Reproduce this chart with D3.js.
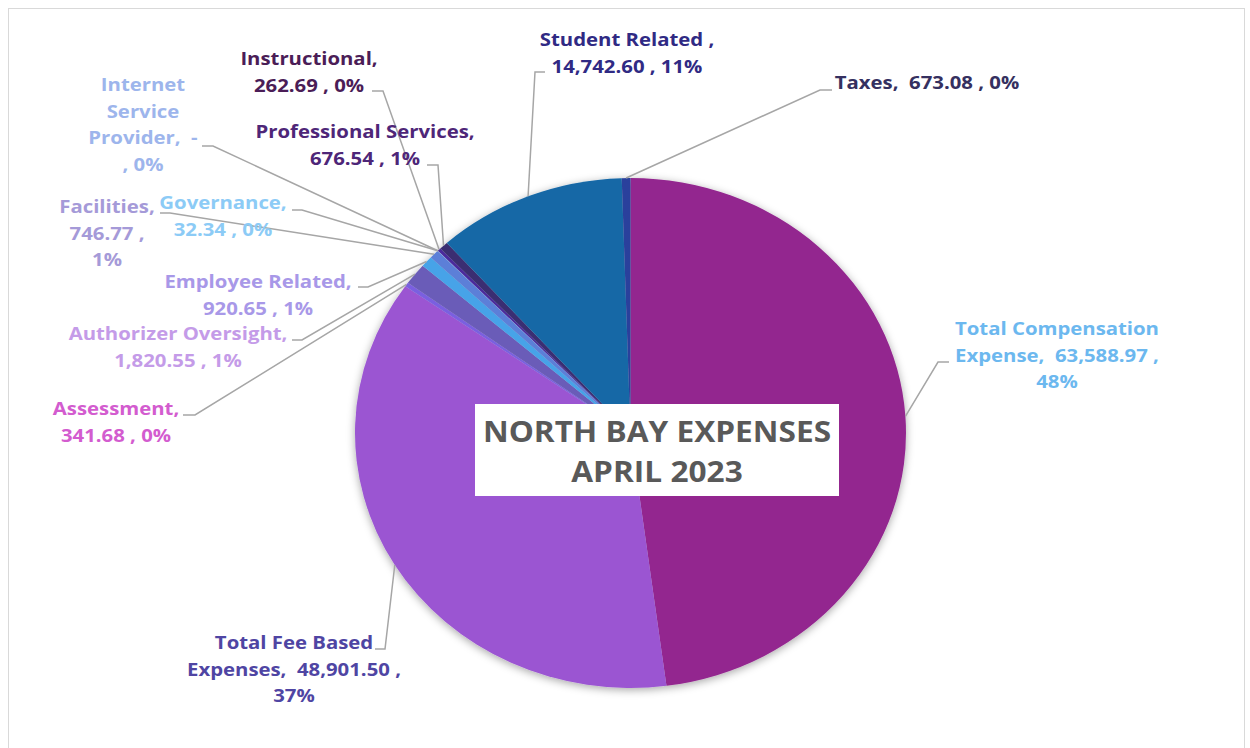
<!DOCTYPE html>
<html>
<head>
<meta charset="utf-8">
<script src="https://cdn.jsdelivr.net/npm/d3@7"></script>
<style>
  body { margin: 0; background: #fff; }
  text { font-family: "Open Sans", "Noto Sans", sans-serif; font-weight: bold; white-space: pre; }
</style>
</head>
<body>
<svg id="chart" width="1250" height="748"></svg>
<script>
// data, in the order the slices run clockwise from 12 o'clock
const categories = ["Total Compensation Expense", "Total Fee Based Expenses", "Assessment",
  "Authorizer Oversight", "Employee Related", "Facilities", "Governance",
  "Internet Service Provider", "Instructional", "Professional Services",
  "Student Related ", "Taxes"];
const amounts = [63588.97, 48901.50, 341.68, 1820.55, 920.65, 746.77, 32.34, 0,
  262.69, 676.54, 14742.60, 673.08];
// percentages as Excel printed them
const percentLabels = ["48%", "37%", "0%", "1%", "1%", "1%", "0%", "0%", "0%", "1%", "11%", "0%"];
const sliceColors = ["#93278f", "#9b55d2", "#7a5fe0", "#6a5bb8", "#46a3e8", "#5b7fd8",
  "#8fc8f2", "#9db5ec", "#4b2b9c", "#3b2f72", "#1467a6", "#2a409c"];
const labelColors = ["#6cb8ef", "#4f45a3", "#d35ccf", "#c49be8", "#a898e8", "#a59ad8",
  "#8ccbf6", "#9db5ec", "#4b1d57", "#4e2678", "#302a84", "#353060"];
const titleLines = ["NORTH BAY EXPENSES", "APRIL 2023"];

// where Excel put each label: text centre, first line y, words per line, leader stub
const labelLayout = [
  {x: 1057, y: 329, wrap: [2, 3, 1], stub: [949, 362, 938, 362]},
  {x: 294, y: 643, wrap: [3, 3, 1], stub: [375, 649, 385, 649]},
  {x: 116, y: 409, wrap: [1, 3], stub: [183, 415, 195, 415]},
  {x: 178, y: 334, wrap: [2, 3], stub: [292, 340, 302, 340]},
  {x: 258, y: 282, wrap: [2, 3], stub: [358, 287, 368, 287]},
  {x: 107, y: 207, wrap: [1, 2, 1], stub: [160, 213, 170, 213]},
  {x: 223, y: 203, wrap: [1, 3], stub: [292, 210, 302, 210]},
  {x: 143, y: 85, wrap: [1, 1, 2, 2], stub: [202, 146, 213, 146]},
  {x: 309, y: 59, wrap: [1, 3], stub: [372, 91, 383, 91]},
  {x: 365, y: 132, wrap: [2, 3], stub: [427, 165, 438, 165]},
  {x: 627, y: 40, wrap: [3, 3], stub: [545, 72, 535, 72]},
  {x: 927, y: 83, wrap: [4], stub: [832, 90, 820, 90]}
];

const svg = d3.select("#chart");
const cx = 630.5, cy = 433, rx = 275.5, ry = 255;
const lineH = 26.5;
const stretch = 1.13;   // the picture is a little wider than it should be, text included

// chart frame
svg.append("rect")
   .attr("x", 8.5).attr("y", 8.5)
   .attr("width", 1236).attr("height", 800)
   .attr("fill", "none").attr("stroke", "#d9d9d9");

const defs = svg.append("defs");
defs.append("filter").attr("id", "shadow")
    .attr("x", "-10%").attr("y", "-10%").attr("width", "120%").attr("height", "120%")
  .append("feDropShadow")
    .attr("dx", 0).attr("dy", 2).attr("stdDeviation", 4)
    .attr("flood-color", "#000").attr("flood-opacity", 0.35);

const pie = d3.pie().sort(null).value(i => amounts[i]);
const arcs = pie(d3.range(categories.length));
const arc = d3.arc().innerRadius(0).outerRadius(ry);
const edge = d3.arc().innerRadius(ry).outerRadius(ry);

const pieG = svg.append("g")
   .attr("transform", "translate(" + cx + "," + cy + ") scale(" + (rx / ry) + ",1)");
pieG.append("g").attr("filter", "url(#shadow)")
   .selectAll("path")
   .data(arcs)
   .enter()
   .append("path")
   .attr("d", arc)
   .attr("fill", d => sliceColors[d.data]);

// accounting style: padded with spaces, a dash for zero
const money = v => " " + (v === 0 ? "-" : d3.format(",.2f")(v)) + " ";

// leader lines
svg.append("g").selectAll("path")
   .data(arcs)
   .enter()
   .append("path")
   .attr("d", d => {
       const s = labelLayout[d.data].stub;
       const p = edge.centroid(d);
       return "M" + s[0] + "," + s[1] + "L" + s[2] + "," + s[3] +
              "L" + (cx + p[0] * rx / ry) + "," + (cy + p[1]);
   })
   .attr("fill", "none")
   .attr("stroke", "#a6a6a6")
   .attr("stroke-width", 1.5);

// data labels
arcs.forEach(d => {
    const i = d.data;
    const lay = labelLayout[i];
    const words = (categories[i] + ", " + money(amounts[i]) + ", " + percentLabels[i])
        .match(/\S+\s*/g);
    let k = 0;
    const lines = lay.wrap.map(n => {
        const l = words.slice(k, k + n).join("").replace(/\s+$/, "");
        k += n;
        return l;
    });
    svg.append("text")
       .attr("transform", "translate(" + lay.x + ",0) scale(" + stretch + ",1)")
       .attr("text-anchor", "middle")
       .attr("fill", labelColors[i])
       .style("font-size", "18px")
       .selectAll("tspan")
       .data(lines)
       .enter()
       .append("tspan")
       .attr("x", 0)
       .attr("y", (l, j) => lay.y + j * lineH)
       .attr("dy", "0.35em")
       .text(l => l);
});

// title box in the middle of the pie
svg.append("rect")
   .attr("x", 475).attr("y", 404)
   .attr("width", 364).attr("height", 92)
   .attr("fill", "#fff");
svg.append("text")
   .attr("transform", "translate(657,0) scale(" + stretch + ",1)")
   .attr("text-anchor", "middle")
   .attr("fill", "#595959")
   .style("font-size", "28px")
   .selectAll("tspan")
   .data(titleLines)
   .enter()
   .append("tspan")
   .attr("x", 0)
   .attr("y", (t, j) => 432 + j * 40)
   .attr("dy", "0.35em")
   .text(t => t);
</script>
</body>
</html>
